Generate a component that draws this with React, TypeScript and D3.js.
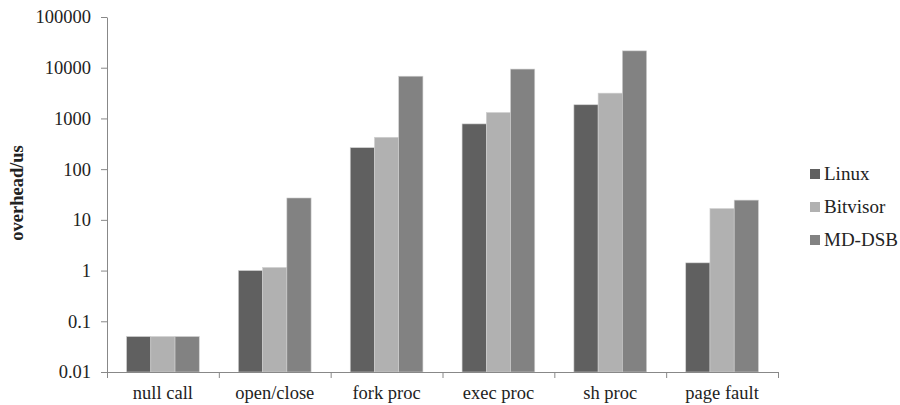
import React, { useEffect, useRef } from "react";
import * as d3 from "d3";

const categories = ["null call", "open/close", "fork proc", "exec proc", "sh proc", "page fault"];
const seriesNames = ["Linux", "Bitvisor", "MD-DSB"];
const linux = [0.05, 1.0, 265, 780, 1860, 1.42];
const bitvisor = [0.05, 1.15, 425, 1310, 3150, 16.7];
const mddsb = [0.05, 27, 6800, 9400, 21500, 24.5];
const yTicks = [0.01, 0.1, 1, 10, 100, 1000, 10000, 100000];
const colors = ["#606060", "#b1b1b1", "#828282"];

export default function App() {
  const ref = useRef<SVGSVGElement>(null);

  useEffect(() => {
    const svg = d3.select(ref.current);
    svg.selectAll("*").remove();
    const font = "'Liberation Serif', 'DejaVu Serif', serif";
    const left = 107, right = 778, top = 17, bottom = 372;
    const series = [linux, bitvisor, mddsb];

    const x = d3.scaleBand().domain(categories).range([left, right]).paddingInner(0.35).paddingOuter(0.175);
    const x1 = d3.scaleBand().domain(seriesNames).range([0, x.bandwidth()]);
    const y = d3.scaleLog().domain([0.01, 100000]).range([bottom, top]);

    const g = svg.append("g");

    // bars
    seriesNames.forEach((name, si) => {
      g.selectAll(".bar" + si)
        .data(categories)
        .enter()
        .append("rect")
        .attr("x", (c) => (x(c) as number) + (x1(name) as number))
        .attr("y", (c, i) => y(series[si][i]))
        .attr("width", x1.bandwidth())
        .attr("height", (c, i) => bottom - y(series[si][i]))
        .attr("fill", colors[si])
        .attr("stroke", "#d0d0d0")
        .attr("stroke-width", 0.6);
    });

    // y axis
    const yAxis = d3.axisLeft(y).tickValues(yTicks).tickFormat((d) => String(d)).tickSize(6).tickSizeOuter(0);
    const ya = g.append("g").attr("transform", `translate(${left},0)`).call(yAxis);
    ya.select(".domain").attr("stroke", "#888");
    ya.selectAll(".tick line").attr("stroke", "#888");
    ya.selectAll(".tick text").attr("style", `font-family: ${font}; font-size: 18.5px`).attr("fill", "#222").attr("x", -16);

    // x axis
    const step = (right - left) / categories.length;
    const xLin = d3.scaleLinear().domain([0, categories.length]).range([left, right]);
    const xa = g.append("g").attr("transform", `translate(0,${bottom})`)
      .call(d3.axisBottom(xLin).tickValues(d3.range(categories.length + 1)).tickFormat(() => "").tickSize(6).tickSizeOuter(0));
    xa.select(".domain").attr("stroke", "#888");
    xa.selectAll(".tick line").attr("stroke", "#888");
    g.selectAll(".xlab")
      .data(categories)
      .enter()
      .append("text")
      .attr("x", (c, i) => left + step * (i + 0.5))
      .attr("y", 399)
      .attr("text-anchor", "middle")
      .attr("style", `font-family: ${font}; font-size: 18.5px`)
      .attr("fill", "#222")
      .text((c) => c);

    // y title
    g.append("text")
      .attr("transform", `translate(23,193) rotate(-90)`)
      .attr("text-anchor", "middle")
      .attr("style", `font-family: ${font}; font-size: 18.5px; font-weight: bold`)
      .attr("fill", "#222")
      .text("overhead/us");

    // legend
    const lg = g.append("g").attr("transform", "translate(810,174)");
    seriesNames.forEach((name, i) => {
      lg.append("rect").attr("x", 0).attr("y", i * 33 - 5).attr("width", 10).attr("height", 10).attr("fill", colors[i]);
      lg.append("text")
        .attr("x", 14)
        .attr("y", i * 33 + 6)
        .attr("style", `font-family: ${font}; font-size: 19px`)
        .attr("fill", "#222")
        .text(name);
    });
  }, []);

  return (
    <svg ref={ref} width={900} height={405} style={{ position: "absolute", left: 0, top: 0, background: "#fff" }} />
  );
}
